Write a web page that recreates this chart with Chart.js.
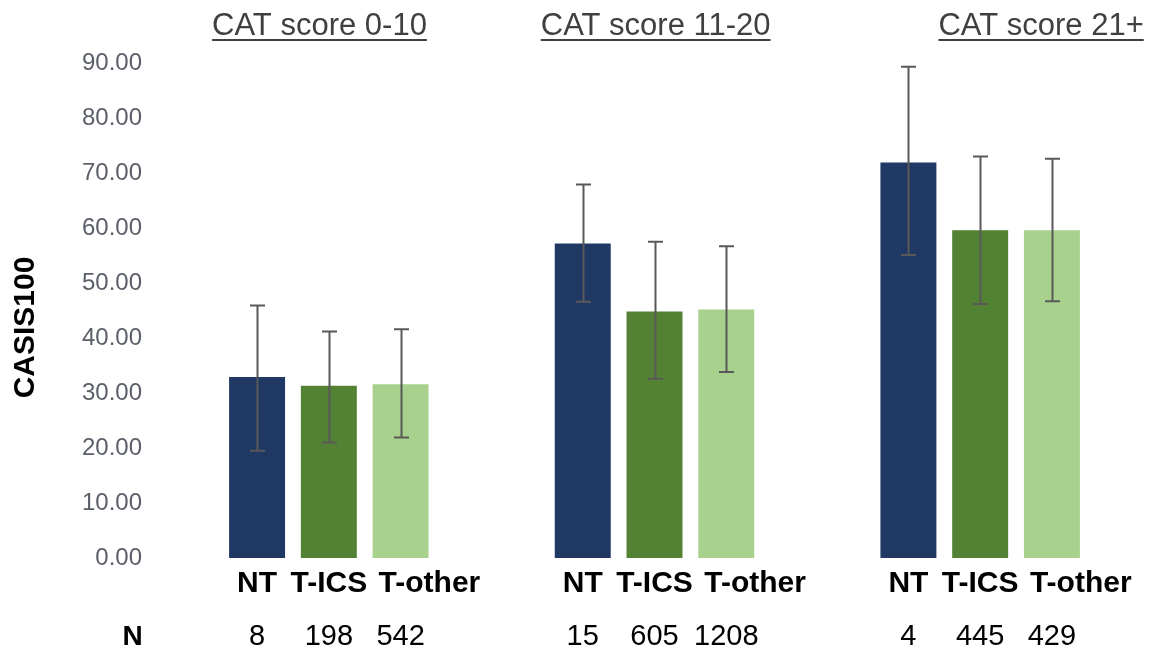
<!DOCTYPE html>
<html>
<head>
<meta charset="utf-8">
<script src="https://cdn.jsdelivr.net/npm/chart.js@4"></script>
<style>
  body { margin: 0; background: #fff; }
  #wrap { width: 1164px; height: 650px; }
</style>
</head>
<body>
<div id="wrap"><canvas id="c"></canvas></div>
<script>
const groups = ['CAT score 0-10', 'CAT score 11-20', 'CAT score 21+'];
const seriesNames = ['NT', 'T-ICS', 'T-other'];

// mean CASIS100 per group
const ntMean = [32.9, 57.2, 71.9];
const icsMean = [31.3, 44.8, 59.6];
const otherMean = [31.6, 45.2, 59.6];

// error bar ends
const ntHigh = [45.9, 67.9, 89.3];
const ntLow = [19.5, 46.6, 55.1];
const icsHigh = [41.2, 57.5, 73.0];
const icsLow = [21.0, 32.6, 46.2];
const otherHigh = [41.6, 56.7, 72.6];
const otherLow = [21.9, 33.8, 46.7];

// N per bar
const ntN = [8, 15, 4];
const icsN = [198, 605, 445];
const otherN = [542, 1208, 429];

const yTicks = [0, 10, 20, 30, 40, 50, 60, 70, 80, 90];

const colors = ['#203864', '#548235', '#A9D18E'];
const highs = [ntHigh, icsHigh, otherHigh];
const lows = [ntLow, icsLow, otherLow];
const counts = [ntN, icsN, otherN];

// left offset of each group title from its first bar's left edge
const titleShift = [-17, -14, 58];

const extras = {
  id: 'extras',
  afterDatasetsDraw(chart) {
    const ctx = chart.ctx;
    const y = chart.scales.y;
    ctx.save();

    // error bars
    ctx.strokeStyle = '#595959';
    ctx.lineWidth = 2;
    chart.data.datasets.forEach((ds, di) => {
      chart.getDatasetMeta(di).data.forEach((bar, i) => {
        const x = Math.round(bar.x) + 0.5;
        const top = y.getPixelForValue(highs[di][i]);
        const bot = y.getPixelForValue(lows[di][i]);
        ctx.beginPath();
        ctx.moveTo(x, top); ctx.lineTo(x, bot);
        ctx.moveTo(x - 7.5, top); ctx.lineTo(x + 7.5, top);
        ctx.moveTo(x - 7.5, bot); ctx.lineTo(x + 7.5, bot);
        ctx.stroke();
      });
    });

    // bar labels and counts
    chart.data.datasets.forEach((ds, di) => {
      chart.getDatasetMeta(di).data.forEach((bar, i) => {
        ctx.fillStyle = '#000';
        ctx.font = 'bold 30px "Liberation Sans", Arial, sans-serif';
        ctx.textBaseline = 'alphabetic';
        if (di === 2) {
          ctx.textAlign = 'left';
          ctx.fillText(ds.label, bar.x - bar.width / 2 + 6, 591.5);
        } else {
          ctx.textAlign = 'center';
          ctx.fillText(ds.label, bar.x, 591.5);
        }
        ctx.font = '29px "Liberation Sans", Arial, sans-serif';
        ctx.textAlign = 'center';
        ctx.fillText(String(counts[di][i]), bar.x, 645);
      });
    });

    ctx.font = 'bold 28px "Liberation Sans", Arial, sans-serif';
    ctx.textAlign = 'center';
    ctx.fillText('N', 132.5, 645);

    // group titles
    const first = chart.getDatasetMeta(0).data;
    ctx.font = '31px "Liberation Sans", Arial, sans-serif';
    ctx.fillStyle = '#404040';
    ctx.strokeStyle = '#404040';
    ctx.textAlign = 'left';
    groups.forEach((g, i) => {
      const left = first[i].x - first[i].width / 2 + titleShift[i];
      ctx.fillText(g, left, 35);
      const w = ctx.measureText(g).width;
      ctx.lineWidth = 2;
      ctx.beginPath();
      ctx.moveTo(left, 40); ctx.lineTo(left + w, 40);
      ctx.stroke();
    });

    // y title
    ctx.translate(33.5, 327.5);
    ctx.rotate(-Math.PI / 2);
    ctx.font = 'bold 30px "Liberation Sans", Arial, sans-serif';
    ctx.fillStyle = '#000';
    ctx.textAlign = 'center';
    ctx.textBaseline = 'alphabetic';
    ctx.fillText('CASIS100', 0, 0);
    ctx.restore();
  }
};

new Chart(document.getElementById('c'), {
  type: 'bar',
  data: {
    labels: groups,
    datasets: [
      { label: seriesNames[0], data: ntMean, backgroundColor: colors[0] },
      { label: seriesNames[1], data: icsMean, backgroundColor: colors[1] },
      { label: seriesNames[2], data: otherMean, backgroundColor: colors[2] },
    ],
  },
  options: {
    responsive: true,
    maintainAspectRatio: false,
    animation: false,
    categoryPercentage: 0.661,
    barPercentage: 0.78,
    layout: { padding: { top: 63, bottom: 92, left: 0, right: 21 } },
    plugins: { legend: { display: false }, tooltip: { enabled: false } },
    scales: {
      x: { display: false },
      y: {
        min: 0,
        max: 90,
        border: { display: false },
        grid: { display: false },
        afterBuildTicks: (s) => { s.ticks = yTicks.map(v => ({ value: v })); },
        afterFit: (s) => { s.width = 166; },
        ticks: {
          padding: 16,
          color: '#5a5f6a',
          font: { family: '"Liberation Sans", Arial, sans-serif', size: 24 },
          callback: (v) => Number(v).toFixed(2),
        },
      },
    },
  },
  plugins: [extras],
});
</script>
</body>
</html>
